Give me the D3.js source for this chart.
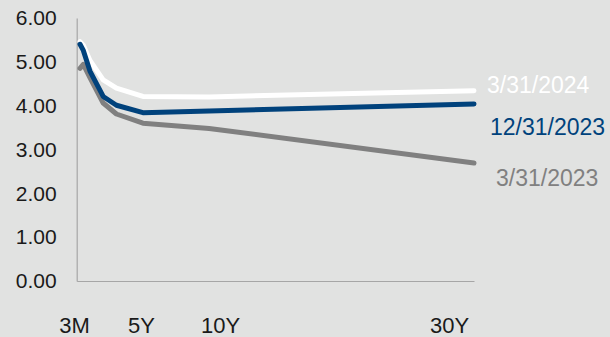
<!DOCTYPE html>
<html>
<head>
<meta charset="utf-8">
<script src="https://cdn.jsdelivr.net/npm/d3@7"></script>
<style>
  body { margin: 0; background: #e1e2e1; }
  svg { display: block; font-family: "Liberation Sans", Arial, sans-serif; }
</style>
</head>
<body>
<div id="chart"></div>
<script>
// maturities in years
var maturities = [0.25, 0.5, 1, 2, 3, 5, 10, 30];
var curveMar2024 = [5.46, 5.38, 5.03, 4.59, 4.40, 4.21, 4.20, 4.34];
var curveDec2023 = [5.40, 5.26, 4.79, 4.21, 4.01, 3.84, 3.88, 4.04];
var curveMar2023 = [4.85, 4.94, 4.64, 4.06, 3.81, 3.60, 3.48, 2.69];
var seriesNames = ["3/31/2024", "12/31/2023", "3/31/2023"];
var tickYears = [0.25, 5, 10, 30];
var tickLabels = ["3M", "5Y", "10Y", "30Y"];
var yTicks = [0, 1, 2, 3, 4, 5, 6];

var w = 610, h = 337;

var svg = d3.select("#chart")
  .append("svg")
  .attr("width", w)
  .attr("height", h);

var x = d3.scaleLinear().domain([0, 30]).range([76.7, 474]);
var y = d3.scaleLinear().domain([0, 6]).range([281, 18]);

// y axis
var yAxis = svg.append("g")
  .attr("transform", "translate(" + x(0) + ",0)")
  .call(d3.axisLeft(y).tickValues(yTicks).tickSize(0).tickSizeOuter(0)
    .tickPadding(20).tickFormat(d3.format(".2f")));
yAxis.select(".domain").attr("stroke", "#a6a6a6").attr("stroke-width", 1.2);
yAxis.selectAll("text").attr("font-size", 21).attr("fill", "#1a1a1a");

// x axis
var labelShift = [-6, -2, 11, -25];
var xAxis = svg.append("g")
  .attr("transform", "translate(0," + y(0) + ")")
  .call(d3.axisBottom(x).tickValues(tickYears).tickSize(0).tickSizeOuter(0)
    .tickFormat(function(d, i) { return tickLabels[i]; }));
xAxis.select(".domain").attr("stroke", "#a6a6a6").attr("stroke-width", 1.2);
xAxis.selectAll("text")
  .attr("font-size", 22)
  .attr("fill", "#1a1a1a")
  .attr("y", 44)
  .attr("dy", "0.35em")
  .attr("dx", function(d, i) { return labelShift[i]; });

var series = [
  {name: seriesNames[0], values: curveMar2024, color: "#ffffff", lx: 13, ly: -6},
  {name: seriesNames[2], values: curveMar2023, color: "#808080", lx: 22, ly: 15},
  {name: seriesNames[1], values: curveDec2023, color: "#00427c", lx: 16, ly: 23}
];

var line = d3.line()
  .x(function(d, i) { return x(maturities[i]); })
  .y(function(d) { return y(d); });

svg.selectAll(".curve")
  .data(series)
  .enter()
  .append("path")
  .attr("class", "curve")
  .attr("d", function(d) { return line(d.values); })
  .attr("fill", "none")
  .attr("stroke", function(d) { return d.color; })
  .attr("stroke-width", 5)
  .attr("stroke-linecap", "round")
  .attr("stroke-linejoin", "round");

svg.selectAll(".series-label")
  .data(series)
  .enter()
  .append("text")
  .attr("class", "series-label")
  .attr("x", function(d) { return x(30) + d.lx; })
  .attr("y", function(d) { return y(d.values[d.values.length - 1]) + d.ly; })
  .attr("dy", "0.35em")
  .attr("font-size", 23)
  .attr("fill", function(d) { return d.color; })
  .text(function(d) { return d.name; });
</script>
</body>
</html>
